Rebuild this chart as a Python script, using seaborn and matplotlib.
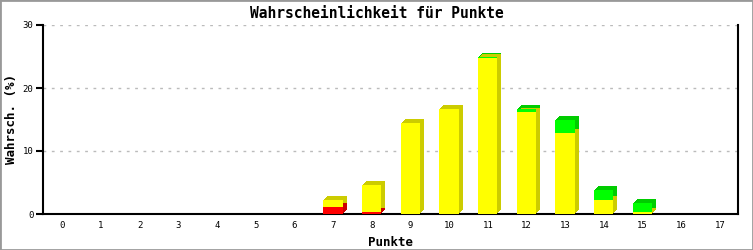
import matplotlib
matplotlib.use("Agg")
import matplotlib.pyplot as plt
import matplotlib.transforms as mtransforms
from matplotlib.patches import Rectangle
import seaborn as sns
import pandas as pd
import numpy as np

punkte = list(range(18))
rot = [0, 0, 0, 0, 0, 0, 0, 1.1, 0.3, 0, 0, 0, 0, 0, 0, 0, 0, 0]
gelb = [0, 0, 0, 0, 0, 0, 0, 1.2, 4.3, 14.4, 16.7, 24.8, 16.2, 12.9, 2.3, 0.3, 0, 0]
gruen = [0, 0, 0, 0, 0, 0, 0, 0, 0, 0, 0, 0.2, 0.5, 2.0, 1.5, 1.4, 0, 0]

df = pd.DataFrame({"Punkte": [str(p) for p in punkte], "rot": rot, "gelb": gelb, "gruen": gruen})
df["cum_rot"] = df["rot"]
df["cum_gelb"] = df["rot"] + df["gelb"]
df["cum_gruen"] = df["cum_gelb"] + df["gruen"]

sns.set_theme(style="white")
plt.rcParams["font.family"] = ["DejaVu Sans Mono", "DejaVu Sans"]
plt.rcParams["text.color"] = "black"
plt.rcParams["axes.labelcolor"] = "black"
plt.rcParams["xtick.color"] = "black"
plt.rcParams["ytick.color"] = "black"

fig = plt.figure(figsize=(7.53, 2.5), dpi=100)
ax = fig.add_axes([43 / 753, 36 / 250, (738 - 43) / 753, (214 - 25) / 250])

order = [str(p) for p in punkte]
layers = [("cum_gruen", "#00ff00", "#00cc00"),
          ("cum_gelb", "#ffff00", "#cccc00"),
          ("cum_rot", "#ff0000", "#cc0000")]

# back (extruded) faces
depth = 4
for col, front, dark in layers:
    for k in range(depth, 0, -1):
        tr = ax.transData + mtransforms.ScaledTranslation(k / 100, k / 100, fig.dpi_scale_trans)
        n0 = len(ax.patches)
        sns.barplot(data=df, x="Punkte", y=col, order=order, color=dark, width=0.5,
                    saturation=1, linewidth=0, ax=ax, zorder=2)
        for p in ax.patches[n0:]:
            p.set_transform(tr)
            if p.get_height() <= 0:
                p.set_visible(False)

# front faces
for col, front, dark in layers:
    n0 = len(ax.patches)
    sns.barplot(data=df, x="Punkte", y=col, order=order, color=front, width=0.5,
                saturation=1, linewidth=0, ax=ax, zorder=3)
    for p in ax.patches[n0:]:
        if p.get_height() <= 0:
            p.set_visible(False)

ax.set_xlim(-0.5, 17.47)
ax.set_ylim(0, 30)
ax.set_yticks([0, 10, 20, 30])
ax.grid(axis="y", color="#bbbbbb", linestyle=(0, (2, 4)), linewidth=1)
ax.grid(axis="x", visible=False)
ax.set_axisbelow(True)

ax.spines["top"].set_visible(False)
for s in ["left", "bottom", "right"]:
    ax.spines[s].set_visible(True)
    ax.spines[s].set_color("black")
    ax.spines[s].set_linewidth(1.5)

ax.tick_params(axis="y", length=5, width=1.5, color="black", labelsize=6.5, pad=2, left=True)
ax.tick_params(axis="x", length=0, labelsize=6.5, pad=5)

ax.set_xlabel("Punkte", fontsize=9, fontweight="bold", labelpad=4)
ax.set_ylabel("Wahrsch. (%)", fontsize=9, fontweight="bold", labelpad=3)
fig.text(0.5, 1 - 13 / 250, "Wahrscheinlichkeit für Punkte", ha="center", va="center",
         fontsize=10.5, fontweight="bold")

border = Rectangle((0, 0), 1, 1, transform=fig.transFigure, fill=False,
                   edgecolor="#999999", linewidth=2)
fig.patches.append(border)

fig.savefig("out.png", dpi=100)
